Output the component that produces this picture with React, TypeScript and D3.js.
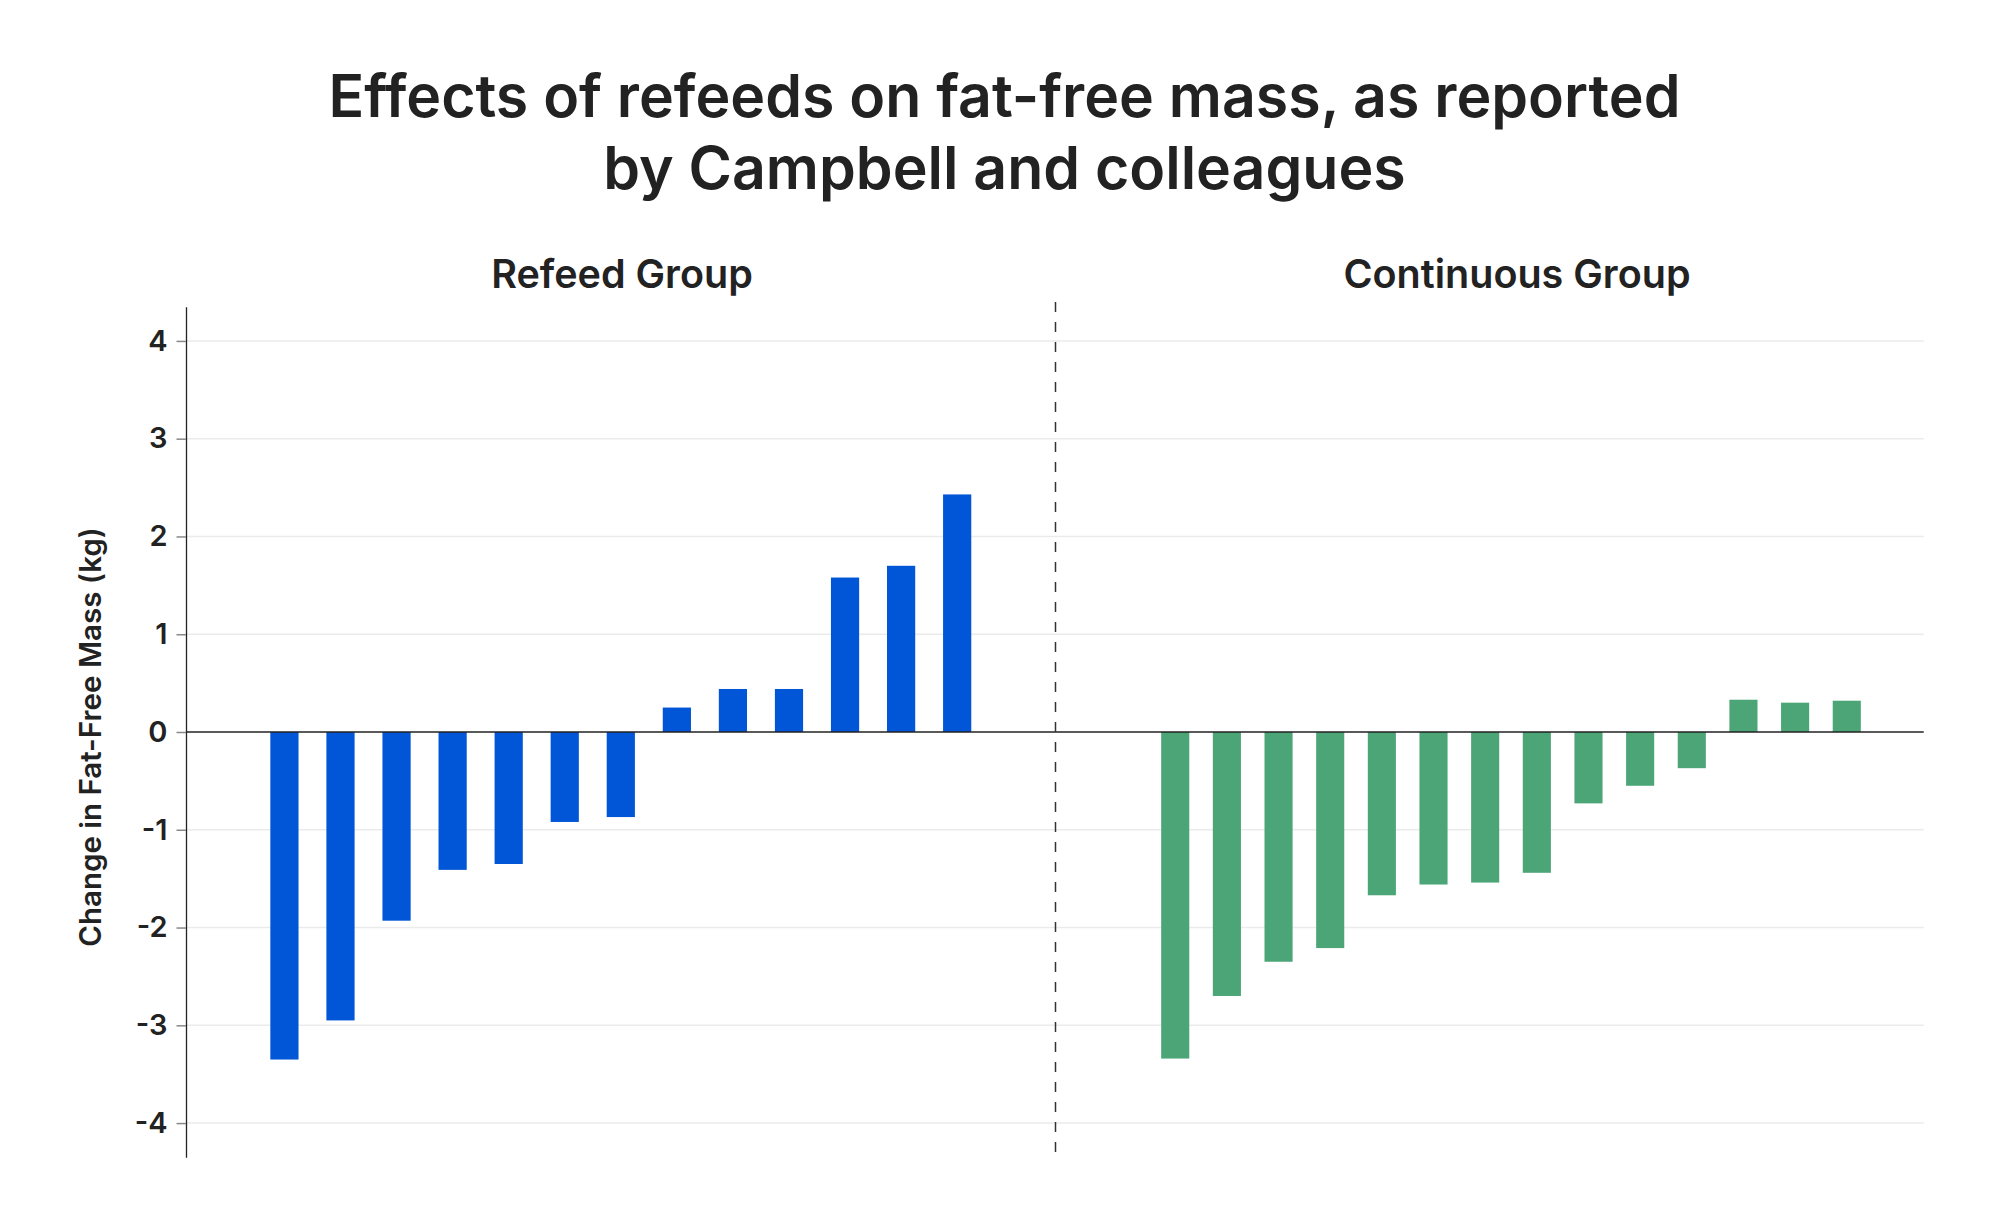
import React, { useEffect, useRef } from "react";
import * as d3 from "d3";

const titleLines = ["Effects of refeeds on fat-free mass, as reported", "by Campbell and colleagues"];
const panelTitles = ["Refeed Group", "Continuous Group"];
const yLabel = "Change in Fat-Free Mass (kg)";
const yTicks = [-4, -3, -2, -1, 0, 1, 2, 3, 4];

const refeedParticipants = d3.range(1, 14).map((i) => `R${i}`);
const refeedValues = [-3.35, -2.95, -1.93, -1.41, -1.35, -0.92, -0.87, 0.25, 0.44, 0.44, 1.58, 1.70, 2.43];

const continuousParticipants = d3.range(1, 15).map((i) => `C${i}`);
const continuousValues = [-3.34, -2.70, -2.35, -2.21, -1.67, -1.56, -1.54, -1.44, -0.73, -0.55, -0.37, 0.33, 0.30, 0.32];

const W = 2000;
const H = 1232;
const FONT = "Inter, 'DejaVu Sans', sans-serif";
const TEXT = "#222222";

export default function App() {
  const ref = useRef<SVGSVGElement | null>(null);

  useEffect(() => {
    document.body.style.margin = "0";
    const svg = d3.select(ref.current);
    svg.selectAll("*").remove();

    const axisX = 186;
    const dividerX = 1055.5;
    const rightEnd = 1923.7;
    const yTop = 306.7;
    const yBottom = 1157.3;

    const y = d3.scaleLinear().domain([-4.35, 4.35]).range([yBottom, yTop]);

    const xLeft = d3
      .scaleBand<string>()
      .domain(refeedParticipants)
      .range([256.4, 985.2])
      .paddingInner(0.497)
      .paddingOuter(0.2485);

    const xRight = d3
      .scaleBand<string>()
      .domain(continuousParticipants)
      .range([1149.4, 1872.6])
      .paddingInner(0.456)
      .paddingOuter(0.228);

    // title
    svg
      .append("g")
      .selectAll("text")
      .data(titleLines)
      .join("text")
      .attr("x", 1004.5)
      .attr("y", (_, i) => 117 + i * 71.5)
      .attr("text-anchor", "middle")
      .attr("font-family", FONT)
      .attr("font-weight", 600)
      .attr("font-size", 59)
      .attr("fill", TEXT)
      .text((d) => d);

    // panel titles
    svg
      .append("g")
      .selectAll("text")
      .data(panelTitles)
      .join("text")
      .attr("x", (_, i) => (i === 0 ? 622 : 1517))
      .attr("y", 288)
      .attr("text-anchor", "middle")
      .attr("font-family", FONT)
      .attr("font-weight", 600)
      .attr("font-size", 39.5)
      .attr("fill", TEXT)
      .text((d) => d);

    // gridlines
    svg
      .append("g")
      .selectAll("line")
      .data(yTicks.filter((t) => t !== 0))
      .join("line")
      .attr("x1", axisX)
      .attr("x2", rightEnd)
      .attr("y1", (d) => y(d))
      .attr("y2", (d) => y(d))
      .attr("stroke", "#ebebeb")
      .attr("stroke-width", 1.5);

    // bars
    svg
      .append("g")
      .selectAll("rect")
      .data(refeedValues.map((v, i) => ({ id: refeedParticipants[i], v })))
      .join("rect")
      .attr("x", (d) => xLeft(d.id)!)
      .attr("width", xLeft.bandwidth())
      .attr("y", (d) => y(Math.max(0, d.v)))
      .attr("height", (d) => Math.abs(y(d.v) - y(0)))
      .attr("fill", "#0056d6");

    svg
      .append("g")
      .selectAll("rect")
      .data(continuousValues.map((v, i) => ({ id: continuousParticipants[i], v })))
      .join("rect")
      .attr("x", (d) => xRight(d.id)!)
      .attr("width", xRight.bandwidth())
      .attr("y", (d) => y(Math.max(0, d.v)))
      .attr("height", (d) => Math.abs(y(d.v) - y(0)))
      .attr("fill", "#4ca577");

    // zero line
    svg
      .append("line")
      .attr("x1", axisX)
      .attr("x2", rightEnd)
      .attr("y1", y(0))
      .attr("y2", y(0))
      .attr("stroke", "#222")
      .attr("stroke-width", 1.5);

    // divider
    svg
      .append("line")
      .attr("x1", dividerX)
      .attr("x2", dividerX)
      .attr("y1", 302)
      .attr("y2", yBottom)
      .attr("stroke", "#333")
      .attr("stroke-width", 1.5)
      .attr("stroke-dasharray", "10,10");

    // y axis
    const axis = svg
      .append("g")
      .attr("transform", `translate(${axisX},0)`)
      .call(
        d3
          .axisLeft(y)
          .tickValues(yTicks)
          .tickSize(9.5)
          .tickSizeOuter(0)
          .tickPadding(9)
          .tickFormat((d) => String(d))
      );
    axis.select(".domain").attr("stroke", "#222").attr("stroke-width", 1.3);
    axis.selectAll(".tick line").attr("stroke", "#888").attr("stroke-width", 1.5);
    axis
      .selectAll(".tick text")
      .attr("font-family", FONT)
      .attr("font-weight", 600)
      .attr("font-size", 29)
      .attr("fill", TEXT);

    // y label
    svg
      .append("text")
      .attr("transform", `translate(101,737) rotate(-90)`)
      .attr("text-anchor", "middle")
      .attr("font-family", FONT)
      .attr("font-weight", 600)
      .attr("font-size", 29.5)
      .attr("fill", TEXT)
      .text(yLabel);
  }, []);

  return <svg ref={ref} width={W} height={H} style={{ display: "block", background: "#fff" }} />;
}
